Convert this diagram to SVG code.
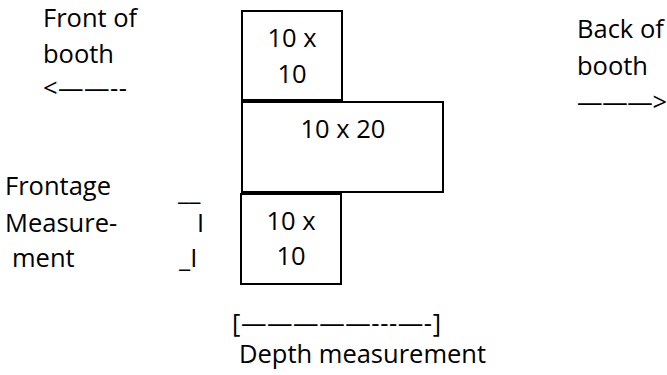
<svg xmlns="http://www.w3.org/2000/svg" width="667" height="375" viewBox="0 0 667 375">
<style>
text{font-family:"Open Sans","Noto Sans","Liberation Sans",sans-serif;font-size:25.5px;fill:#000}
.box{fill:#fff;stroke:#000;stroke-width:2}
.c{text-anchor:middle}
</style>
<rect width="667" height="375" fill="#fff"/>
<g id="labels">
<text x="43" y="27">Front of</text>
<text x="43" y="63">booth</text>
<text x="43" y="97" textLength="84">&lt;——--</text>
<text x="577" y="38">Back of</text>
<text x="577" y="75">booth</text>
<text x="577" y="111" textLength="90">———&gt;</text>
<text x="5" y="195">Frontage</text>
<text x="5" y="232">Measure-</text>
<text x="12" y="267">ment</text>
<text x="178" y="200">__</text>
<text x="197" y="232">I</text>
<text x="179" y="267">_I</text>
<text x="232" y="332" textLength="209">[—————---—-]</text>
<text x="239" y="363">Depth measurement</text>
</g>
<g id="box-top">
<rect class="box" x="242" y="11" width="100" height="89"/>
<text class="c" x="292" y="47">10 x</text>
<text class="c" x="292" y="83">10</text>
</g>
<g id="box-middle">
<rect class="box" x="242" y="102" width="201" height="90"/>
<text class="c" x="343" y="138">10 x 20</text>
</g>
<g id="box-bottom">
<rect class="box" x="241" y="194" width="100" height="90"/>
<text class="c" x="291" y="230">10 x</text>
<text class="c" x="291" y="265">10</text>
</g>
<g id="connectors"></g>
</svg>
